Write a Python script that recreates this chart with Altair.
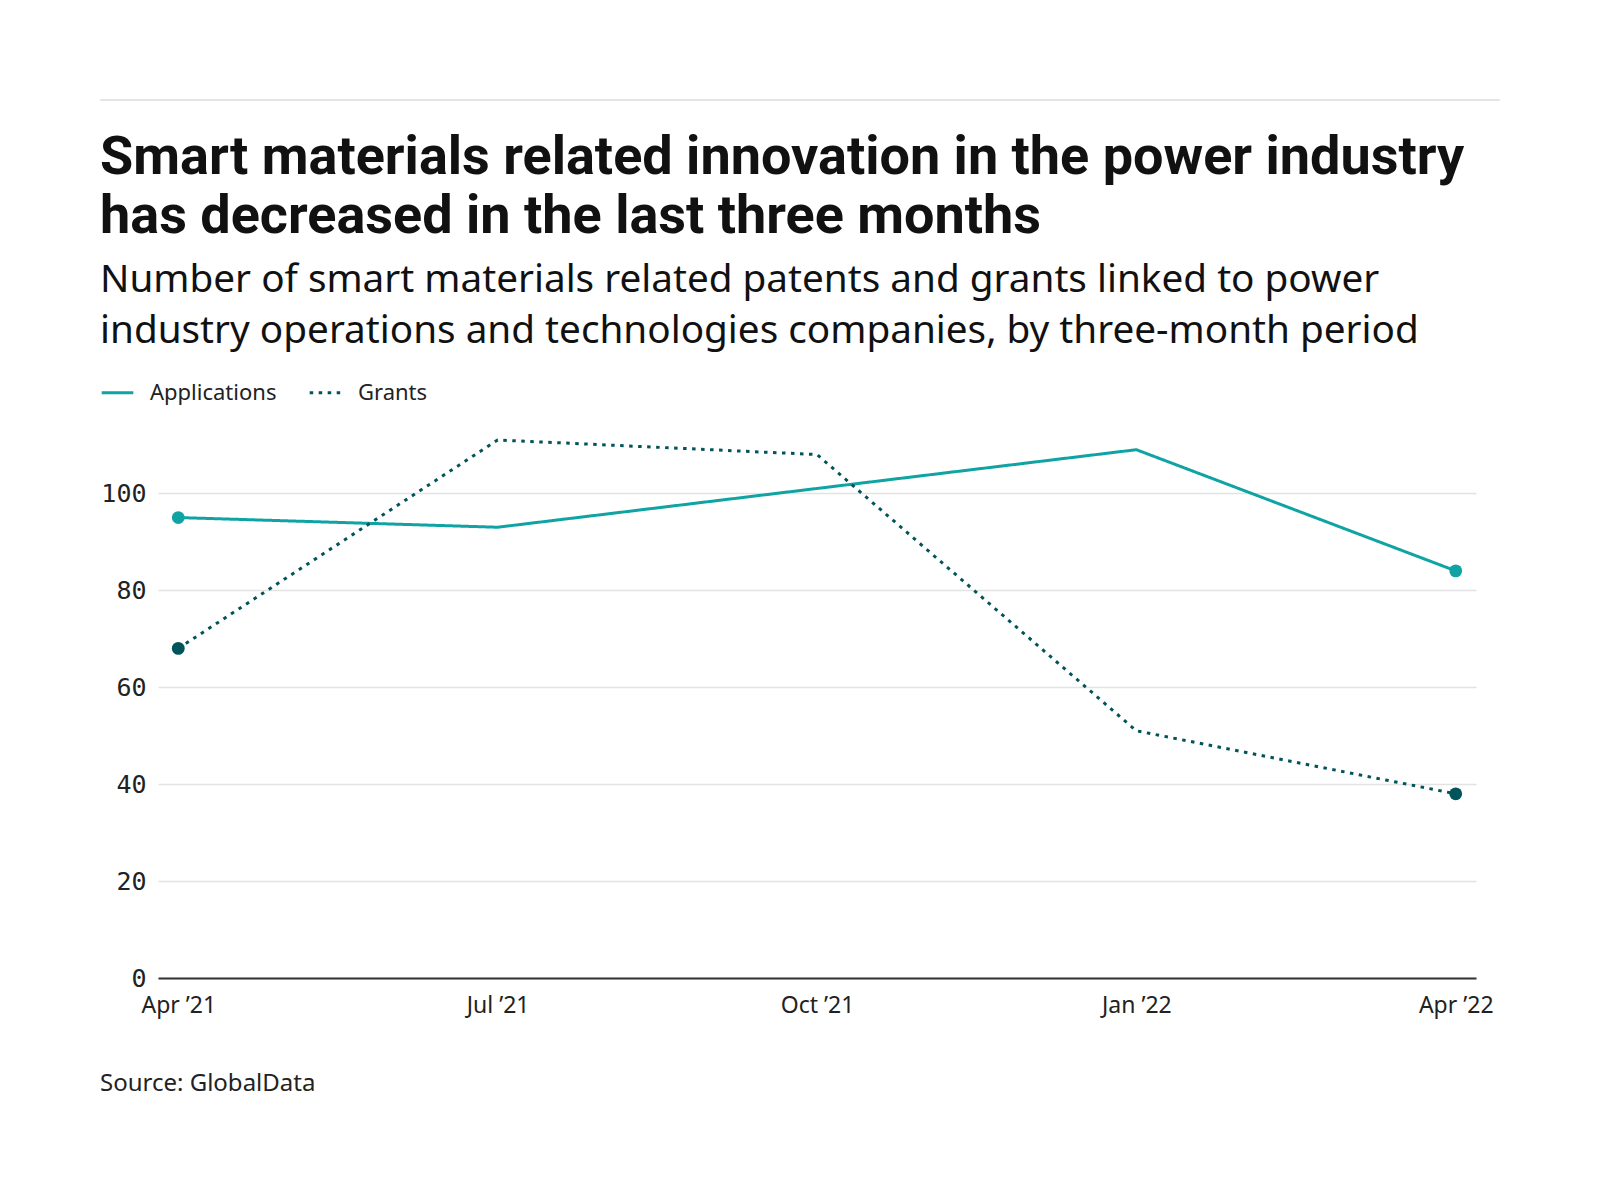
import altair as alt
import pandas as pd

periods = ["Apr ’21", "Jul ’21", "Oct ’21", "Jan ’22", "Apr ’22"]
applications = [95, 93, 101, 109, 84]
grants = [68, 111, 108, 51, 38]
series_names = ["Applications", "Grants"]
series_colors = ["#0fa3a4", "#00545a"]
y_ticks = [0, 20, 40, 60, 80, 100]

title_lines = ["Smart materials related innovation in the power industry",
               "has decreased in the last three months"]
subtitle_lines = ["Number of smart materials related patents and grants linked to power",
                  "industry operations and technologies companies, by three-month period"]
source_text = "Source: GlobalData"

rows = []
for i, p in enumerate(periods):
    rows.append({"period": p, "idx": i, "series": "Applications", "value": applications[i]})
    rows.append({"period": p, "idx": i, "series": "Grants", "value": grants[i]})
df = pd.DataFrame(rows)

W, H = 1318, 538
TITLE_FONT = "Roboto"
SANS = "Noto Sans"
MONO = "DejaVu Sans Mono"

legend_cfg = dict(title=None, orient="none", legendX=-58, legendY=-65,
                  direction="horizontal", symbolType="stroke",
                  symbolSize=1000, symbolStrokeWidth=3,
                  labelFont=SANS, labelFontSize=22, labelColor="#222222",
                  labelOffset=15, columnPadding=26)

x_enc = alt.X("period:N", sort=periods,
              scale=alt.Scale(type="point", padding=0.0635),
              axis=alt.Axis(title=None, labelAngle=0, ticks=False, grid=False,
                            domain=True, domainColor="#333333", domainWidth=2,
                            labelFont=SANS, labelFontSize=23, labelColor="#222222",
                            labelPadding=16))
y_enc = alt.Y("value:Q", scale=alt.Scale(domain=[0, 111], nice=False, zero=True),
              axis=alt.Axis(title=None, values=y_ticks, ticks=False, domain=False,
                            grid=True, gridColor="#e3e3e3", gridWidth=1.5,
                            labelFont=MONO, labelFontSize=25, labelColor="#222222",
                            labelPadding=12))
color_enc = alt.Color("series:N", scale=alt.Scale(domain=series_names, range=series_colors),
                      legend=alt.Legend(**legend_cfg))
dash_enc = alt.StrokeDash("series:N",
                          scale=alt.Scale(domain=series_names, range=[[1, 0], [3.5, 5.5]]),
                          legend=alt.Legend(**legend_cfg))

base = alt.Chart(df)
lines = base.mark_line(strokeWidth=3).encode(x=x_enc, y=y_enc, color=color_enc, strokeDash=dash_enc)
points = base.transform_filter(
    (alt.datum.idx == 0) | (alt.datum.idx == len(periods) - 1)
).mark_point(filled=True, size=165, opacity=1).encode(
    x=alt.X("period:N", sort=periods), y="value:Q",
    color=alt.Color("series:N", legend=None))


def text_layer(txt, y, font, size, weight="normal", color="#111111"):
    return alt.Chart(pd.DataFrame({"t": [txt]})).mark_text(
        align="left", baseline="alphabetic", font=font, fontSize=size,
        fontWeight=weight, color=color).encode(
        text="t:N", x=alt.value(-58), y=alt.value(y))


t1 = text_layer(title_lines[0], -266, TITLE_FONT, 54, "bold")
t2 = text_layer(title_lines[1], -207, TITLE_FONT, 54, "bold")
s1 = text_layer(subtitle_lines[0], -148, SANS, 38.7)
s2 = text_layer(subtitle_lines[1], -97, SANS, 38.7)
src = text_layer(source_text, 651, SANS, 24, color="#222222")
top_rule = alt.Chart(pd.DataFrame({"a": [0]})).mark_rule(color="#dddddd", strokeWidth=1.5).encode(
    x=alt.value(-58), x2=alt.value(1342), y=alt.value(-340))

chart = alt.layer(top_rule, lines, points, t1, t2, s1, s2, src).properties(
    width=W, height=H,
    padding={"left": 150, "top": 432, "right": 100, "bottom": 150},
    autosize=alt.AutoSizeParams(type="none"),
    background="white",
).configure_view(stroke=None)

chart.save("out.html", embed_options={"renderer": "svg", "actions": False})
